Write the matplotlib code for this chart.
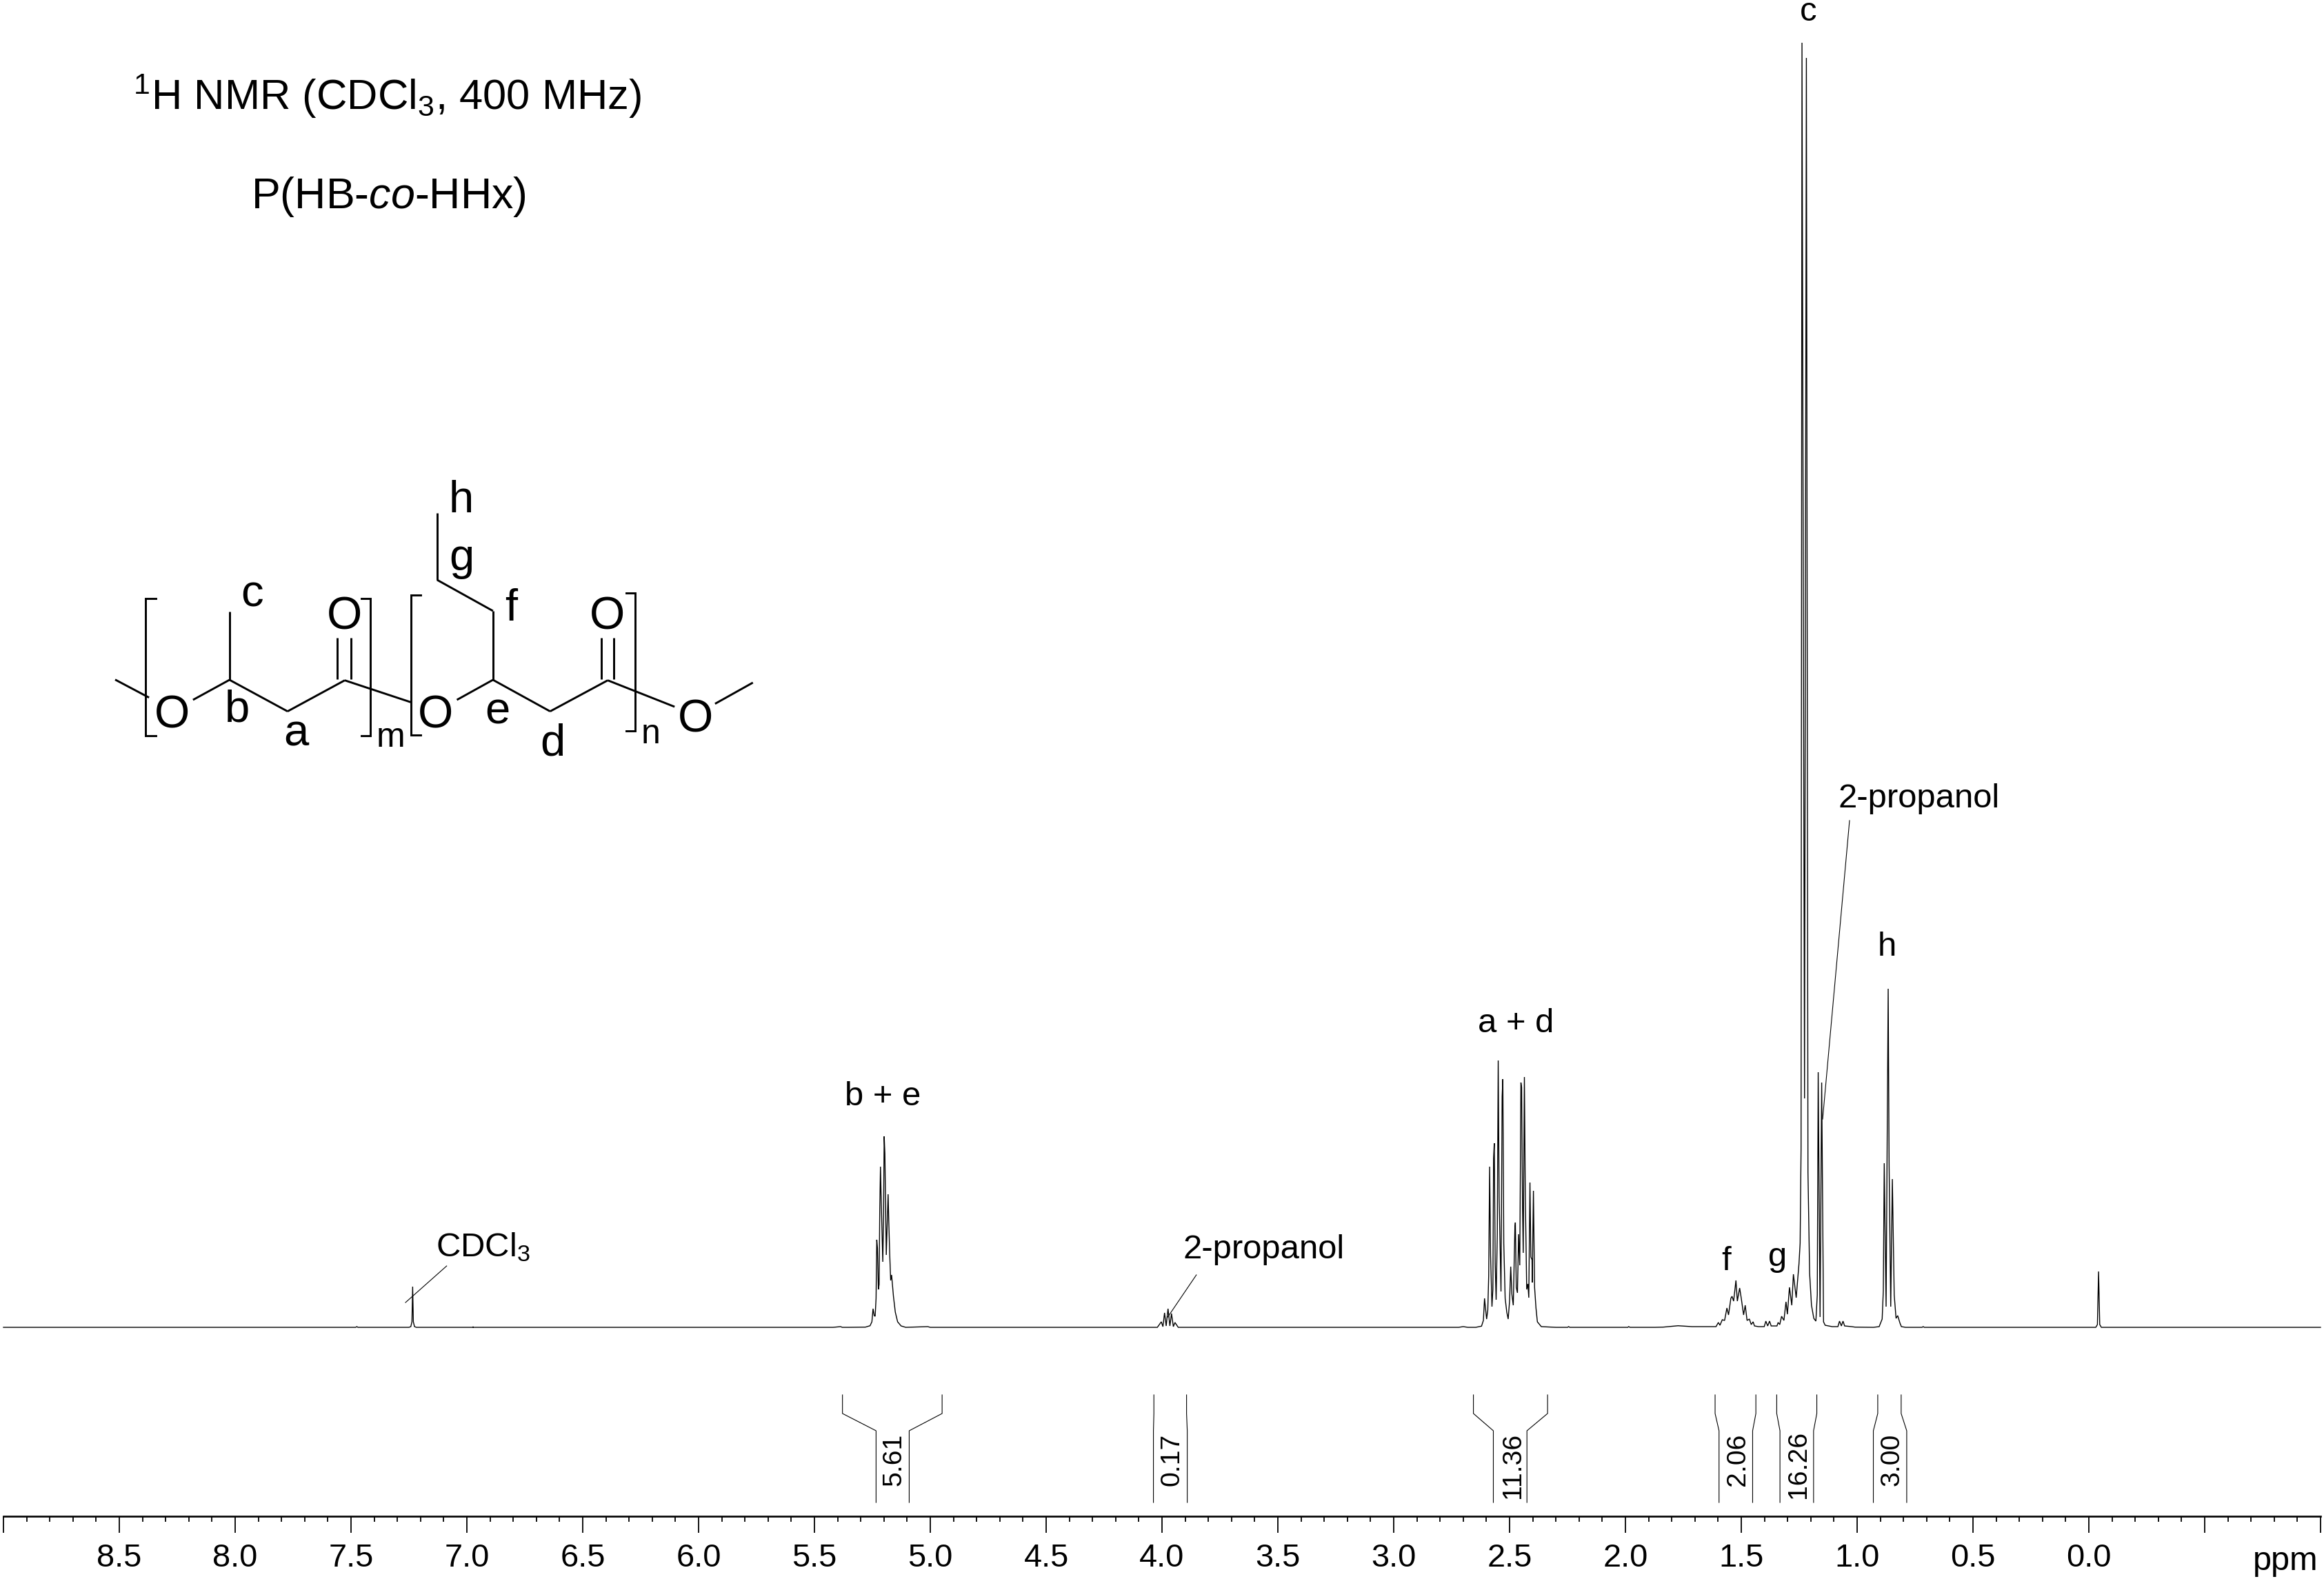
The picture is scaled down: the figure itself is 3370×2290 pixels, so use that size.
#!/usr/bin/python
# -*- coding: utf-8 -*-

# 1H NMR spectrum of P(HB-co-HHx), with integrals and the polymer structure
import matplotlib
matplotlib.use('Agg')
import matplotlib.pyplot as plt
from matplotlib.ticker import MultipleLocator

plt.rcParams['font.family'] = ['Liberation Sans', 'DejaVu Sans']
plt.rcParams['mathtext.fontset'] = 'custom'
plt.rcParams['mathtext.rm'] = 'Liberation Sans'
plt.rcParams['mathtext.it'] = 'Liberation Sans:italic'
plt.rcParams['mathtext.default'] = 'regular'

# spectrum (ppm, height above baseline)
base_ppm = [9.0, 7.48, 7.475, 7.47, 7.30]
base_h = [0, 0, 1, 0, 0]

cdcl3_ppm = [7.25, 7.242, 7.237, 7.234, 7.231, 7.226, 7.218, 6.974, 6.973, 6.972]
cdcl3_h = [0, 1, 8, 59, 8, 1, 0, 0, 1, 0]

be_ppm = [5.42, 5.387, 5.38, 5.354, 5.280, 5.260, 5.252, 5.247, 5.242, 5.238, 5.234, 5.231, 5.228,
          5.224, 5.221, 5.218, 5.215, 5.212, 5.205, 5.202, 5.199, 5.196, 5.190, 5.182, 5.179,
          5.175, 5.171, 5.167, 5.159, 5.151, 5.141, 5.126, 5.106, 5.011, 5.0]
be_h = [0, 1, 0, 0, 0.3, 2.3, 8, 27, 17, 16, 42, 127, 115,
        55, 62, 172, 233, 187, 95, 152, 277, 252, 105, 193, 152,
        105, 68, 76, 45, 22, 8, 2, 0, 1, 0]

ipa_ppm = [4.02, 4.003, 3.996, 3.989, 3.982, 3.974, 3.966, 3.959, 3.951, 3.944, 3.93]
ipa_h = [0, 8, 1, 21, 2, 27, 2, 20, 1, 7, 0]

ad_ppm = [2.72, 2.70, 2.68, 2.646, 2.621, 2.613, 2.608, 2.604, 2.599, 2.594, 2.590, 2.586, 2.582, 2.576,
          2.572, 2.569, 2.566, 2.562, 2.558, 2.553, 2.549, 2.545, 2.541, 2.537, 2.532, 2.529,
          2.525, 2.519, 2.512, 2.506, 2.500, 2.495, 2.490, 2.484, 2.477, 2.475, 2.471, 2.466,
          2.461, 2.456, 2.451, 2.448, 2.444, 2.441, 2.436, 2.432, 2.426, 2.421, 2.417, 2.412,
          2.408, 2.403, 2.402, 2.397, 2.392, 2.386, 2.380, 2.363, 2.30, 2.25, 2.245, 2.24]
ad_h = [0, 1, 0, 0, 1.7, 10, 42, 28, 12, 25, 75, 233, 105, 30,
        55, 245, 267, 92, 40, 135, 387, 188, 122, 52, 335, 360,
        122, 42, 22, 12, 38, 88, 48, 32, 145, 152, 58, 50,
        135, 90, 355, 348, 175, 108, 363, 188, 55, 63, 43, 210,
        102, 98, 65, 198, 58, 28, 8, 1, 0, 0, 1, 0]

upfield_ppm = [1.99, 1.986, 1.98, 1.872, 1.837, 1.773, 1.713, 1.609, 1.599, 1.592, 1.582, 1.572, 1.562, 1.555,
               1.545, 1.540, 1.533, 1.523, 1.517, 1.507, 1.500, 1.490, 1.483, 1.475, 1.465,
               1.457, 1.449, 1.443, 1.426, 1.401, 1.394, 1.386, 1.378, 1.371, 1.346, 1.341,
               1.334, 1.326, 1.316, 1.307, 1.301, 1.292, 1.282, 1.275, 1.263, 1.251, 1.246,
               1.242, 1.238, 1.227, 1.219, 1.2134, 1.2122, 1.205, 1.197, 1.187, 1.178, 1.172,
               1.168, 1.160, 1.153, 1.145, 1.138, 1.108, 1.083, 1.076, 1.068, 1.061, 1.054,
               1.024, 1.009, 0.930, 0.905, 0.892, 0.887, 0.883, 0.875, 0.866, 0.862, 0.855,
               0.848, 0.840, 0.832, 0.825, 0.815, 0.809, 0.791]
upfield_h = [0, 1, 0, 0, 0.3, 2.3, 1, 1, 7, 3, 11, 10, 28, 18,
             42, 45, 38, 68, 38, 57, 42, 18, 32, 10, 12,
             4, 8, 2, 1, 1, 9, 2, 9, 2, 2, 7,
             4, 16, 10, 37, 19, 58, 32, 77, 43, 92, 122,
             258, 1863, 332, 1841, 558, 225, 78, 32, 13, 9, 47,
             370, 15, 355, 8, 3, 1, 1, 9, 2, 9, 2,
             1, 0.3, 0, 1, 12, 53, 238, 30, 491, 235, 30,
             215, 47, 13, 17, 6, 1, 0]

tms_ppm = [0.72, 0.715, 0.71, -0.03, -0.037, -0.042, -0.047, -0.054, -1.0]
tms_h = [0, 1, 0, 0, 4, 81, 4, 0, 0]

# integrals: outer left, outer right, inner left, inner right, label position, value
int_outer_left = [5.379, 4.035, 2.656, 1.613, 1.347, 0.911]
int_outer_right = [4.949, 3.894, 2.336, 1.437, 1.174, 0.810]
int_inner_left = [5.234, 4.037, 2.570, 1.596, 1.333, 0.930]
int_inner_right = [5.091, 3.891, 2.425, 1.451, 1.188, 0.786]
int_label_ppm = [5.156, 3.957, 2.484, 1.516, 1.252, 0.851]
int_label_y = [-230, -230, -248, -230, -248, -230]
int_values = ['5.61', '0.17', '11.36', '2.06', '16.26', '3.00']

tick_ppm = [9.0, 8.5, 8.0, 7.5, 7.0, 6.5, 6.0, 5.5, 5.0, 4.5, 4.0, 3.5, 3.0, 2.5, 2.0, 1.5, 1.0, 0.5, 0.0, -0.5, -1.0]
tick_labels = ['', '8.5', '8.0', '7.5', '7.0', '6.5', '6.0', '5.5', '5.0', '4.5', '4.0', '3.5', '3.0',
               '2.5', '2.0', '1.5', '1.0', '0.5', '0.0', '', '']

# peak labels: text, x, baseline y (pixels), alignment
peak_labels = [('c', 2622, 30, 'center'), ('a + d', 2198, 1497, 'center'), ('b + e', 1280, 1603, 'center'),
               ('h', 2736, 1386, 'center'), ('f', 2503, 1842, 'center'), ('g', 2578, 1836, 'center'),
               ('2-propanol', 2665, 1171, 'left'), ('2-propanol', 1715, 1825, 'left'),
               ('CDCl$_{3}$', 632, 1822, 'left')]
leaders = [((588, 647.7), (1889, 1836)), ((1693.4, 1734.8), (1910, 1849)), ((2643, 2682), (1623, 1190))]

# structure, in a drawing grid that is scaled onto the page below
bonds = [((58, 135), (917, 995)), ((235, 318), (1005, 918)), ((318, 450), (918, 1055)), ((450, 580), (1055, 920)),
         ((318, 318), (918, 620)), ((563, 563), (735, 915)), ((595, 595), (735, 915)), ((580, 730), (920, 1015)),
         ((835, 917), (1005, 918)), ((917, 1047), (918, 1055)), ((1047, 1178), (1055, 920)),
         ((917, 917), (918, 618)), ((917, 790), (618, 483)), ((790, 790), (483, 192)),
         ((1163, 1163), (735, 915)), ((1192, 1192), (735, 915)), ((1178, 1330), (920, 1035)), ((1422, 1508), (1022, 930))]
brackets = [((150, 127, 127, 150), (565, 565, 1162, 1162)), ((618, 638, 638, 618), (565, 565, 1160, 1160)),
            ((752, 730, 730, 752), (548, 548, 1157, 1157)), ((1220, 1240, 1240, 1220), (540, 540, 1140, 1140))]
oxygens = [(187, 1125), (787, 1127), (1377, 1145), (580, 697), (1177, 697)]
atom_labels = [('h', 845, 188), ('g', 845, 440), ('c', 370, 600), ('f', 958, 660), ('b', 335, 1100),
               ('a', 470, 1205), ('e', 928, 1110), ('d', 1052, 1245)]
repeat_labels = [('m', 685, 1208), ('n', 1275, 1195)]


def sx(v):
    return 130 + v / 1.568


def sy(v):
    return 680 + v / 3.0


fig = plt.figure(figsize=(33.7, 22.9), dpi=100)
ax = fig.add_axes([0, 0, 1, 1])
ax.patch.set_alpha(0)

# 336 pixels per ppm, 0.0 ppm at pixel 3029, baseline at pixel 1925
ax.set_xlim(3029 / 336.0, (3029 - 3370) / 336.0)
ax.set_ylim(-365, 1925)

ppm = base_ppm + cdcl3_ppm + be_ppm + ipa_ppm + ad_ppm + upfield_ppm + tms_ppm
height = base_h + cdcl3_h + be_h + ipa_h + ad_h + upfield_h + tms_h
ax.plot(ppm, height, color='black', lw=1.0, solid_joinstyle='miter')

for i in range(len(int_values)):
    ax.plot([int_outer_left[i], int_outer_left[i], int_inner_left[i], int_inner_left[i]],
            [-98, -125, -150, -254], color='black', lw=0.8)
    ax.plot([int_outer_right[i], int_outer_right[i], int_inner_right[i], int_inner_right[i]],
            [-98, -125, -150, -254], color='black', lw=0.8)
    ax.text(int_label_ppm[i], int_label_y[i], int_values[i], rotation=90, ha='center', va='bottom', fontsize=28.2)

for side in ['left', 'right', 'top']:
    ax.spines[side].set_visible(False)
ax.spines['bottom'].set_position(('data', -274))
ax.spines['bottom'].set_bounds(9.0, -1.0)
ax.spines['bottom'].set_linewidth(1.9)
ax.set_yticks([])
ax.set_xticks(tick_ppm)
ax.set_xticklabels(tick_labels)
ax.xaxis.set_minor_locator(MultipleLocator(0.1))
ax.tick_params(axis='x', which='major', direction='out', length=17.3, width=1.3, labelsize=33.8, pad=11)
ax.tick_params(axis='x', which='minor', direction='out', length=5.8, width=1.3)

# overlay in page pixels for the labels and the structure
ov = fig.add_axes([0, 0, 1, 1])
ov.set_xlim(0, 3370)
ov.set_ylim(2290, 0)
ov.axis('off')

ov.text(193, 159, '$^{1}$H NMR (CDCl$_{3}$, 400 MHz)', fontsize=44.3, va='baseline')
ov.text(364, 302, 'P(HB-$\\mathit{co}$-HHx)', fontsize=45.2, va='baseline')
ov.text(3362, 2277, 'ppm', fontsize=35, ha='right', va='baseline')

for text, x, y, align in peak_labels:
    ov.text(x, y, text, fontsize=35.3, ha=align, va='baseline')
for xs, ys in leaders:
    ov.plot(xs, ys, color='black', lw=0.8)

for xs, ys in bonds:
    ov.plot([sx(v) for v in xs], [sy(v) for v in ys], color='black', lw=2.1, solid_capstyle='butt')
for xs, ys in brackets:
    ov.plot([sx(v) for v in xs], [sy(v) for v in ys], color='black', lw=2.1, solid_joinstyle='miter')
for x, y in oxygens:
    ov.text(sx(x), sy(y), 'O', fontsize=47.5, ha='center', va='baseline')
for text, x, y in atom_labels:
    ov.text(sx(x), sy(y), text, fontsize=47, ha='center', va='baseline')
for text, x, y in repeat_labels:
    ov.text(sx(x), sy(y), text, fontsize=36, ha='center', va='baseline')

plt.savefig('out.png', dpi=100)
